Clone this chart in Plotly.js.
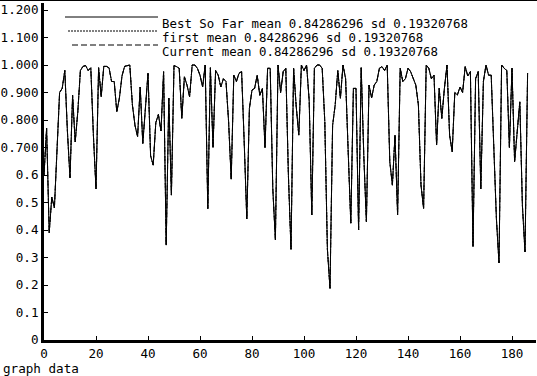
<!DOCTYPE html>
<html>
<head>
<meta charset="utf-8">
<script src="https://cdn.plot.ly/plotly-3.0.1.min.js"></script>
<style>
html,body{margin:0;padding:0;background:#fff;}
#chart{width:537px;height:376px;}
#topline{position:absolute;left:0;top:0;width:537px;height:1px;background:#000;}
</style>
</head>
<body>
<div id="chart"></div>
<div id="topline"></div>
<script>
// Values (one per generation index, starting at 0)
const bestSoFar = [
0.60,0.77,0.39,0.52,0.48,0.68,0.90,0.915,0.98,0.76,
0.59,0.89,0.72,0.83,0.98,0.995,0.998,0.98,0.99,0.745,
0.55,0.99,0.885,0.995,0.995,0.99,0.94,0.94,0.83,0.88,
0.96,0.995,0.998,1.0,0.855,0.78,0.74,0.92,0.715,0.855,
0.97,0.67,0.636,0.79,0.82,0.76,0.976,0.345,0.88,0.527,
0.998,0.994,0.988,0.806,0.957,0.927,0.885,1.0,1.0,0.988,
0.963,0.92,1.0,0.478,0.99,0.70,0.98,0.963,0.92,0.95,
0.94,0.794,0.585,0.963,0.94,0.97,0.976,0.72,0.44,0.842,
0.909,0.915,0.963,0.89,0.915,0.70,0.988,0.988,0.55,0.364,
1.0,0.9,0.976,0.988,0.6,0.33,0.988,0.85,0.745,1.0,
0.98,1.0,0.87,0.455,0.988,1.0,1.0,0.988,0.794,0.33,
0.188,0.78,0.855,0.98,0.879,1.0,0.95,0.684,0.425,0.915,
0.915,0.40,0.99,0.67,0.43,0.927,0.88,0.927,0.94,0.988,
0.994,0.98,1.0,0.648,0.563,0.745,0.455,0.988,0.94,0.95,
0.988,0.976,0.95,0.927,0.855,0.563,0.478,1.0,0.988,0.95,
0.963,0.709,0.915,0.806,0.915,1.0,0.745,0.685,0.90,0.891,
0.92,0.90,0.994,0.96,0.976,0.34,0.95,0.976,0.55,0.94,
1.0,0.963,0.963,0.673,0.442,0.28,1.0,0.988,0.98,0.70,
0.988,0.648,0.77,0.866,0.49,0.32,0.97
];
const first = bestSoFar.slice();
const current = bestSoFar.slice();

const seriesNames = [
  "Best So Far mean 0.84286296 sd 0.19320768",
  "first mean 0.84286296 sd 0.19320768",
  "Current mean 0.84286296 sd 0.19320768"
];
const xTickVals = [0,20,40,60,80,100,120,140,160,180];
const yTickVals = [0,0.1,0.2,0.3,0.4,0.5,0.6,0.7,0.8,0.9,1.0,1.1,1.2];
const yTickText = ["0","0.1","0.2","0.3","0.4","0.5","0.6","0.700","0.800","0.900","1.000","1.100","1.200"];
const footerText = "graph data";

const FONT = "DejaVu Sans Mono, Liberation Mono, monospace";
const fs = 12.6;

const traces = [
  {y: current, type:"scatter", mode:"lines", line:{color:"#000", width:1, dash:"6px,3px"}, name: seriesNames[2], showlegend:false, hoverinfo:"skip"},
  {y: first, type:"scatter", mode:"lines", line:{color:"#000", width:1, dash:"2px,1px"}, name: seriesNames[1], showlegend:false, hoverinfo:"skip"},
  {y: bestSoFar, type:"scatter", mode:"lines", line:{color:"#000", width:1}, name: seriesNames[0], showlegend:false, hoverinfo:"skip"}
];

// geometry helpers for paper coordinates
const L = 44, T = 3, W = 492, H = 337;
const px2x = p => (p - L) / W;
const py2y = p => (T + H - p) / H;

const legendLines = [
  {x0:65, x1:158, y:17, dash:"solid"},
  {x0:68, x1:158, y:31, dash:"2px,1px"},
  {x0:72, x1:158, y:45, dash:"6px,3px"}
];
const legendTextY = [23, 37, 51];

const shapes = legendLines.map(l => ({
  type:"line", xref:"paper", yref:"paper",
  x0:px2x(l.x0), x1:px2x(l.x1), y0:py2y(l.y), y1:py2y(l.y),
  line:{color:"#000", width:1, dash:l.dash}
}));
const annotations = seriesNames.map((t,i) => ({
  text:t, xref:"paper", yref:"paper", x:px2x(161), y:py2y(legendTextY[i]),
  xanchor:"left", yanchor:"middle", showarrow:false, height:12, borderpad:0,
  font:{family:FONT, size:12.4, color:"#000"}
}));
annotations.push({
  text:footerText, xref:"paper", yref:"paper", x:px2x(1), y:py2y(368),
  xanchor:"left", yanchor:"middle", showarrow:false,
  font:{family:FONT, size:fs, color:"#000"}
});

const layout = {
  width:537, height:376,
  margin:{l:L, r:537-L-W, t:T, b:376-T-H, pad:0},
  paper_bgcolor:"#fff", plot_bgcolor:"#fff",
  showlegend:false,
  font:{family:FONT, size:fs, color:"#000"},
  xaxis:{
    range:[0, W/2.6], tickvals:xTickVals, ticktext:xTickVals.map(String),
    showgrid:false, zeroline:false, showline:true, linecolor:"#000", linewidth:3,
    ticks:"inside", ticklen:4, tickwidth:1, tickcolor:"#000",
    tickfont:{family:FONT, size:fs, color:"#000"}, fixedrange:true
  },
  yaxis:{
    range:[0, H/275], tickvals:yTickVals, ticktext:yTickText,
    showgrid:false, zeroline:false, showline:true, linecolor:"#000", linewidth:3,
    ticks:"inside", ticklen:4, tickwidth:1, tickcolor:"#000",
    tickfont:{family:FONT, size:fs, color:"#000"}, fixedrange:true
  },
  shapes:shapes,
  annotations:annotations
};

Plotly.newPlot("chart", traces, layout, {displayModeBar:false, staticPlot:true});
</script>
</body>
</html>
